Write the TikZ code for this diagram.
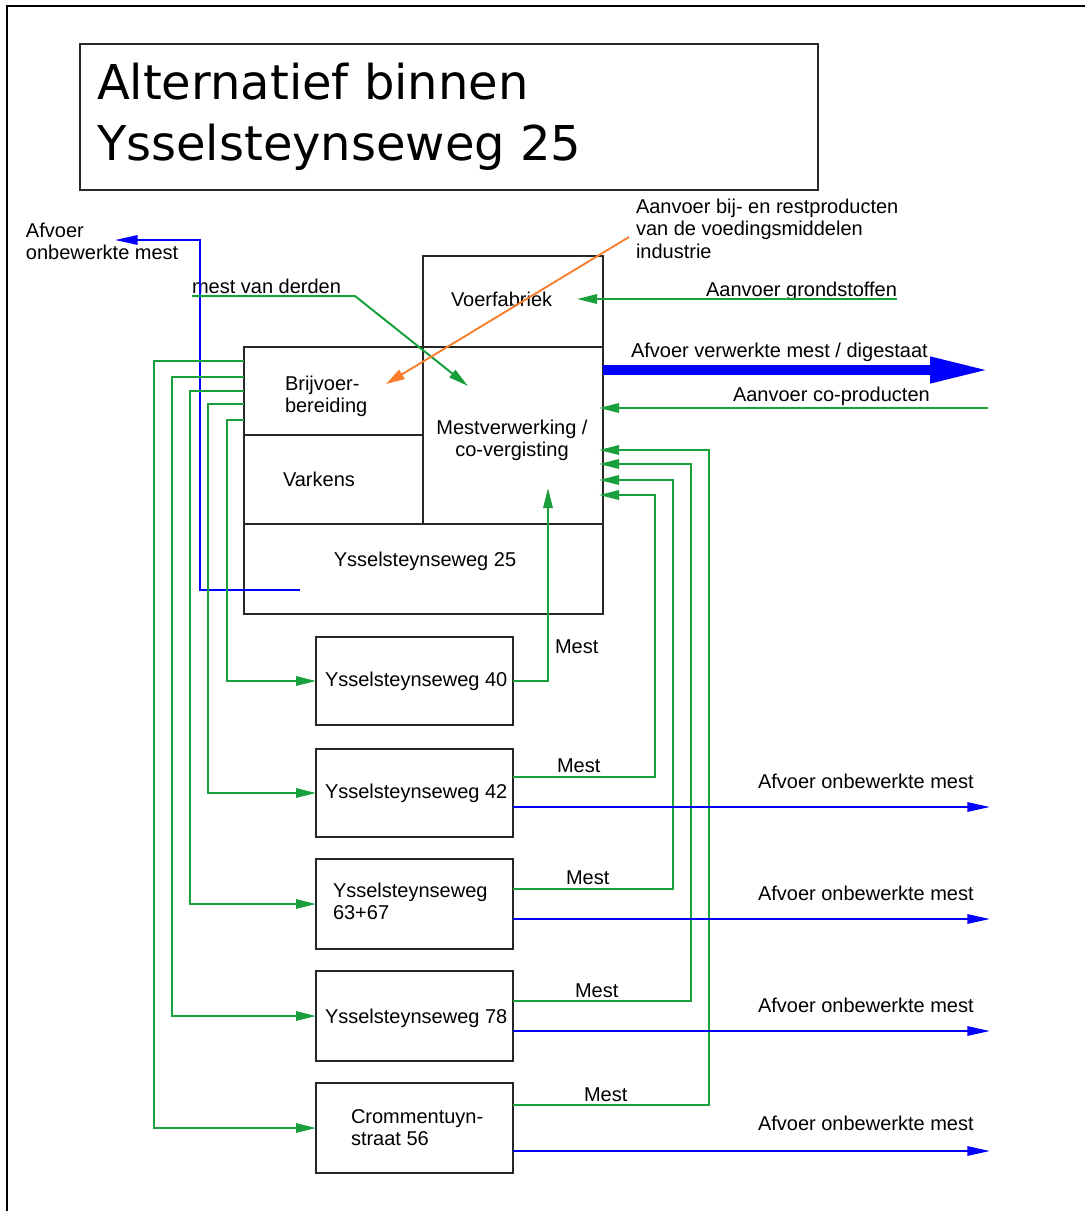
\documentclass[tikz,border=0pt]{standalone}
\usepackage{fontspec}
\setmainfont{Liberation Sans}
\newfontfamily\titlefont{DejaVu Sans}
\usetikzlibrary{arrows.meta}
\definecolor{gline}{RGB}{25,160,60}
\definecolor{bline}{RGB}{0,0,255}
\definecolor{oline}{RGB}{250,125,45}
\newcommand{\mll}[1]{\begin{tabular}[t]{@{}l@{}}#1\end{tabular}}
\newcommand{\mlc}[1]{\begin{tabular}[t]{@{}c@{}}#1\end{tabular}}
\begin{document}
\begin{tikzpicture}[x=0.75pt,y=-0.75pt,
  every node/.style={inner sep=0pt, outer sep=0pt, font=\fontsize{15}{17}\selectfont},
  boxn/.style={draw=black!85, line width=1.5pt},
  garr/.style={draw=gline, line width=1.5pt, -{Triangle[length=15pt,width=7pt]}},
  barr/.style={draw=bline, line width=1.5pt, -{Triangle[length=17pt,width=7pt]}},
  oarr/.style={draw=oline, line width=1.4pt, -{Triangle[length=14pt,width=8pt]}},
  thickarr/.style={draw=bline, line width=7.5pt, -{Triangle[length=45pt,width=18pt]}}
]
\useasboundingbox (0,0) rectangle (1085,1211);
\fill[white] (0,0) rectangle (1085,1211);
\draw[line width=2.2pt] (7,1215) -- (7,6) -- (1090,6);

% title
\node[boxn, minimum width=553.5pt, minimum height=109.5pt] (title) at (449,117) {};
\node[anchor=base west, font=\titlefont\fontsize{36}{45.75}\selectfont] (titletext) at (97,99.5)
  {\mll{Alternatief binnen\\Ysselsteynseweg 25}};

% main boxes
\node[boxn, minimum width=135pt, minimum height=68.25pt] (voer) at (513,301.5) {};
\node[boxn, minimum width=134.25pt, minimum height=66pt] (brij) at (333.5,391) {};
\node[boxn, minimum width=134.25pt, minimum height=66.75pt] (vark) at (333.5,479.5) {};
\node[boxn, minimum width=135pt, minimum height=132.75pt] (mest) at (513,435.5) {};
\node[boxn, minimum width=269.25pt, minimum height=67.5pt] (ys25) at (423.5,569) {};
\node[boxn, minimum width=147.75pt, minimum height=66pt] (ys40) at (414.5,681) {};
\node[boxn, minimum width=147.75pt, minimum height=66pt] (ys42) at (414.5,793) {};
\node[boxn, minimum width=147.75pt, minimum height=67.5pt] (ys63) at (414.5,904) {};
\node[boxn, minimum width=147.75pt, minimum height=67.5pt] (ys78) at (414.5,1016) {};
\node[boxn, minimum width=147.75pt, minimum height=67.5pt] (crom) at (414.5,1128) {};

% box texts
\node[anchor=base west] (lvoer) at (451,306) {Voerfabriek};
\node[anchor=base west] (lbrij) at (285,390) {\mll{Brijvoer-\\bereiding}};
\node[anchor=base west] (lvark) at (283,486) {Varkens};
\node[anchor=base] (lmest) at (512,434) {\mlc{Mestverwerking /\\co-vergisting}};
\node[anchor=base] (l25) at (425,566) {Ysselsteynseweg 25};
\node[anchor=base west] (l40) at (325,686) {Ysselsteynseweg 40};
\node[anchor=base west] (l42) at (325,798) {Ysselsteynseweg 42};
\node[anchor=base west] (l63) at (333,897) {\mll{Ysselsteynseweg\\63+67}};
\node[anchor=base west] (l78) at (325,1023) {Ysselsteynseweg 78};
\node[anchor=base west] (lcrom) at (351,1123) {\mll{Crommentuyn-\\straat 56}};

% free labels
\node[anchor=base west] (lafv) at (26,237) {\mll{Afvoer\\onbewerkte mest}};
\node[anchor=base west] (lderden) at (192,293) {mest van derden};
\node[anchor=base west] (lbij) at (636,213) {\mll{Aanvoer bij- en restproducten\\van de voedingsmiddelen\\industrie}};
\node[anchor=base east] (lgrond) at (897,296) {Aanvoer grondstoffen};
\node[anchor=base west] (ldig) at (631,357) {Afvoer verwerkte mest / digestaat};
\node[anchor=base west] (lcop) at (733,401) {Aanvoer co-producten};
\node[anchor=base west] (m40l) at (555,653) {Mest};
\node[anchor=base west] (m42l) at (557,772) {Mest};
\node[anchor=base west] (m63l) at (566,884) {Mest};
\node[anchor=base west] (m78l) at (575,997) {Mest};
\node[anchor=base west] (mcrl) at (584,1101) {Mest};
\node[anchor=base west] (a42l) at (758,788) {Afvoer onbewerkte mest};
\node[anchor=base west] (a63l) at (758,900) {Afvoer onbewerkte mest};
\node[anchor=base west] (a78l) at (758,1012) {Afvoer onbewerkte mest};
\node[anchor=base west] (acrl) at (758,1130) {Afvoer onbewerkte mest};

% coordinates for free ends
\coordinate (b25) at (300,590);
\coordinate (afl) at (115,240);
\coordinate (mvd) at (192,296);
\coordinate (mvdt) at (468,386);
\coordinate (ora) at (629,237);
\coordinate (orat) at (386,384);
\coordinate (gr) at (897,299);
\coordinate (grt) at (577,299);
\coordinate (dig) at (990,370);
\coordinate (cop) at (988,408);
\coordinate (m40) at (548,488);
\coordinate (o42) at (990,807);
\coordinate (o63) at (990,919);
\coordinate (o78) at (990,1031);
\coordinate (ocr) at (990,1151);

% connectors
\draw[barr] (b25) -| (200,240) -- (afl);
\draw[garr] (mvd) -- (355,296) -- (mvdt);
\draw[oarr] (ora) -- (orat);
\draw[garr] (gr) -- (grt);
\draw[thickarr] (mest.east |- dig) -- (dig);
\draw[garr, shorten >=-3pt] (cop) -- (mest.east |- cop);

\draw[garr] (brij.west |- 0,361) -- ++(-90,0) |- (crom.west);
\draw[garr] (brij.west |- 0,377) -- ++(-72,0) |- (ys78.west);
\draw[garr] (brij.west |- 0,391) -- ++(-54,0) |- (ys63.west);
\draw[garr] (brij.west |- 0,404) -- ++(-36,0) |- (ys42.west);
\draw[garr] (brij.west |- 0,420) -- ++(-17,0) |- (ys40.west);

\draw[garr] (ys40.east) -| (m40);
\draw[garr, shorten >=-3pt] (ys42.east |- 0,777) -- ++(142,0) |- (mest.east |- 0,495);
\draw[garr, shorten >=-3pt] (ys63.east |- 0,889) -- ++(160,0) |- (mest.east |- 0,480);
\draw[garr, shorten >=-3pt] (ys78.east |- 0,1001) -- ++(178,0) |- (mest.east |- 0,464);
\draw[garr, shorten >=-3pt] (crom.east |- 0,1105) -- ++(196,0) |- (mest.east |- 0,450);

\draw[barr] (ys42.east |- o42) -- (o42);
\draw[barr] (ys63.east |- o63) -- (o63);
\draw[barr] (ys78.east |- o78) -- (o78);
\draw[barr] (crom.east |- ocr) -- (ocr);
\end{tikzpicture}
\end{document}
